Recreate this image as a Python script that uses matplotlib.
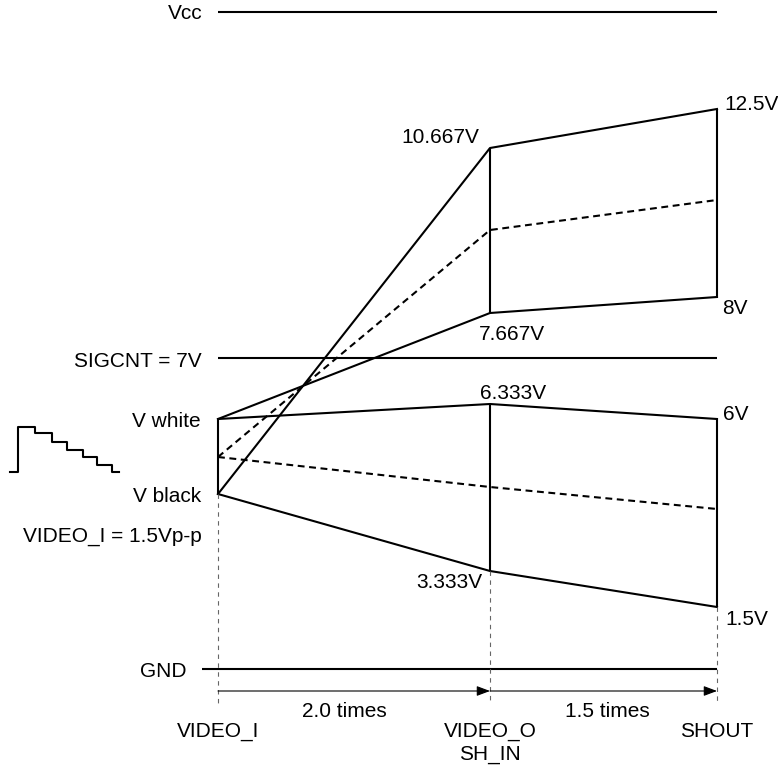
import matplotlib
matplotlib.use("Agg")
import matplotlib.pyplot as plt

plt.rcParams['font.family'] = ['Liberation Sans', 'DejaVu Sans']

# ---- diagram data (schematic level positions, in diagram units: y grows downward) ----
stage_x = [218, 490, 717]
stage_names = ["VIDEO_I", "VIDEO_O", "SHOUT"]
stage_sub = ["", "SH_IN", ""]
gain_labels = ["2.0 times", "1.5 times"]

# upper band (after level shift)
upper_top = [494, 148, 109]      # V black -> 10.667V -> 12.5V
upper_bottom = [419, 313, 297]   # V white -> 7.667V -> 8V
upper_mid = [457, 230, 200]
# lower band
lower_top = [419, 404, 419]      # V white -> 6.333V -> 6V
lower_bottom = [494, 571, 607]   # V black -> 3.333V -> 1.5V
lower_mid = [457, 487, 509]

rail_names = ["Vcc", "SIGCNT = 7V", "GND"]
rail_y = [12, 358, 669]
rail_x0 = [218, 218, 202]
rail_x1 = [717, 717, 717]

# staircase icon (input waveform sketch)
stair_x = [10, 18.3, 18.3, 35, 35, 51.7, 51.7, 66.7, 66.7, 82.7, 82.7, 96.7, 96.7, 111.7, 111.7, 119.3]
stair_y = [471.7, 471.7, 426.7, 426.7, 433.3, 433.3, 441.7, 441.7, 450, 450, 457.3, 457.3, 465, 465, 471.7, 471.7]

FS = 15
LW = 1.5

fig = plt.figure(figsize=(7.78, 7.71), dpi=100)
ax = fig.add_axes([0, 0, 1, 1])
ax.set_xlim(0, 778)
ax.set_ylim(771, 0)
ax.axis('off')

# rails
for name, y, x0, x1 in zip(rail_names, rail_y, rail_x0, rail_x1):
    ax.plot([x0, x1], [y, y], color='black', lw=LW, solid_capstyle='butt')
ax.text(203, 19, "Vcc", ha='right', va='baseline', fontsize=FS)
ax.text(202, 367, "SIGCNT = 7V", ha='right', va='baseline', fontsize=FS)
ax.text(187, 677, "GND", ha='right', va='baseline', fontsize=FS)

# bands
for top, bot, mid in [(upper_top, upper_bottom, upper_mid), (lower_top, lower_bottom, lower_mid)]:
    ax.plot(stage_x, top, color='black', lw=LW)
    ax.plot(stage_x, bot, color='black', lw=LW)
    ax.plot(stage_x, mid, color='black', lw=LW, dashes=(3.3, 2.2))
    for i in (1, 2):
        ax.plot([stage_x[i], stage_x[i]], [top[i], bot[i]], color='black', lw=LW, solid_capstyle='butt')
ax.plot([stage_x[0], stage_x[0]], [lower_top[0], lower_bottom[0]], color='black', lw=LW, solid_capstyle='butt')

# gray dashed drop lines
drop_start = [lower_bottom[0], lower_bottom[1], lower_bottom[2]]
for x, y0 in zip(stage_x, drop_start):
    ax.plot([x, x], [y0, 703], color='#666666', lw=0.8, dashes=(4, 4))

# gain arrows
arrow_y = 691
for i in range(2):
    ax.annotate("", xy=(stage_x[i + 1], arrow_y), xytext=(stage_x[i], arrow_y),
                arrowprops=dict(arrowstyle='-|>,head_length=0.8,head_width=0.3',
                                mutation_scale=10, color='black', lw=0.8,
                                shrinkA=0, shrinkB=0))
ax.text(344, 717, gain_labels[0], ha='center', va='baseline', fontsize=FS)
ax.text(607, 717, gain_labels[1], ha='center', va='baseline', fontsize=FS)

# stage names
for x, n, s in zip(stage_x, stage_names, stage_sub):
    ax.text(x, 737, n, ha='center', va='baseline', fontsize=FS)
    if s:
        ax.text(x, 760, s, ha='center', va='baseline', fontsize=FS)

# level labels
ax.text(201, 427, "V white", ha='right', va='baseline', fontsize=FS)
ax.text(201, 502, "V black", ha='right', va='baseline', fontsize=FS)
ax.text(202, 542, "VIDEO_I = 1.5Vp-p", ha='right', va='baseline', fontsize=FS)

ax.text(479, 143, "10.667V", ha='right', va='baseline', fontsize=FS)
ax.text(479, 340, "7.667V", ha='left', va='baseline', fontsize=FS)
ax.text(480, 399, "6.333V", ha='left', va='baseline', fontsize=FS)
ax.text(482, 588, "3.333V", ha='right', va='baseline', fontsize=FS)
ax.text(724, 110, "12.5V", ha='left', va='baseline', fontsize=FS)
ax.text(722, 314, "8V", ha='left', va='baseline', fontsize=FS)
ax.text(723, 420, "6V", ha='left', va='baseline', fontsize=FS)
ax.text(725, 625, "1.5V", ha='left', va='baseline', fontsize=FS)

# staircase icon
ax.plot(stair_x, stair_y, color='black', lw=1.5)

fig.savefig("out.png", dpi=100)
